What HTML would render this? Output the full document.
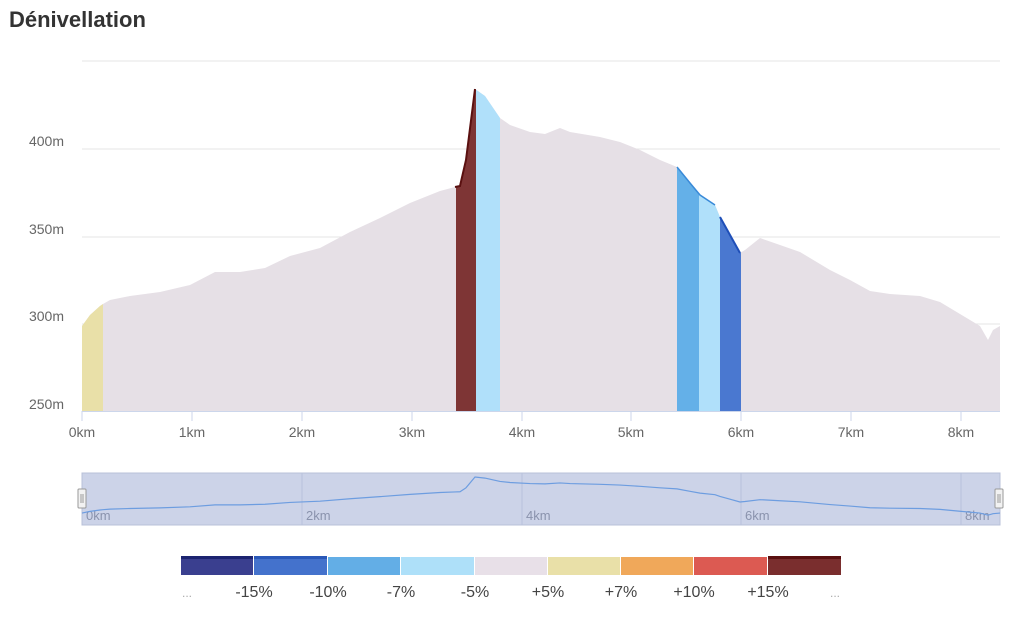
<!DOCTYPE html>
<html><head><meta charset="utf-8"><style>
body{margin:0;background:#fff;width:1024px;height:624px;overflow:hidden;font-family:"Liberation Sans",sans-serif}
</style></head><body>
<svg width="1024" height="624" viewBox="0 0 1024 624" xmlns="http://www.w3.org/2000/svg">
<text x="9" y="27" font-size="22" font-weight="bold" fill="#333" font-family="Liberation Sans, sans-serif">Dénivellation</text>
<g stroke="#e6e6e6" stroke-width="1">
<line x1="82" y1="61" x2="1000" y2="61"/><line x1="82" y1="149" x2="1000" y2="149"/>
<line x1="82" y1="237" x2="1000" y2="237"/><line x1="82" y1="324" x2="1000" y2="324"/>
</g>
<g font-size="14" fill="#666" text-anchor="end">
<text x="64" y="146">400m</text><text x="64" y="234">350m</text><text x="64" y="321">300m</text><text x="64" y="409">250m</text>
</g>
<defs>
<clipPath id="c"><path id="ap" d="M82,411 L82,326 L90,315 L100,306 L103,304 L110,300 L130,296 L160,292 L190,285 L215,272 L240,272 L265,268 L290,256 L320,248 L350,232 L380,218 L410,203 L440,191 L455,187 L460,186 L466,160 L475,89 L485,96 L500,118 L510,125 L530,132 L545,134 L560,128 L570,132 L600,137 L620,142 L640,150 L660,160 L677,167 L690,183 L700,195 L715,205 L720,217 L730,235 L740,253 L745,250 L760,238 L780,245 L800,252 L830,270 L850,280 L870,291 L890,294 L920,296 L940,302 L960,314 L980,326 L988,340 L993,330 L1000,326 L1000,411 Z"/></clipPath>
</defs>
<use href="#ap" fill="#e6e0e6"/>
<g clip-path="url(#c)">
<rect x="82" y="60" width="21" height="352" fill="#e9e0a8"/>
<rect x="456" y="60" width="20" height="352" fill="#7e3535"/>
<rect x="476" y="60" width="24" height="352" fill="#b0e0fa"/>
<rect x="677" y="60" width="22" height="352" fill="#64b0e8"/>
<rect x="699" y="60" width="21" height="352" fill="#b0e0fa"/>
<rect x="720" y="60" width="21" height="352" fill="#4a78d0"/>
</g>
<path d="M455,187 L460,186 L466,160 L475,89" fill="none" stroke="#5a1010" stroke-width="2"/>
<path d="M677,167 L690,183 L700,195 L715,205" fill="none" stroke="#3a8ad8" stroke-width="1.5"/>
<path d="M720,217 L730,235 L740,253" fill="none" stroke="#1f4fb8" stroke-width="2"/>
<line x1="82" y1="411.5" x2="1000" y2="411.5" stroke="#ccd6eb"/>
<g stroke="#ccd6eb"><line x1="82" y1="411" x2="82" y2="421"/><line x1="192" y1="411" x2="192" y2="421"/><line x1="302" y1="411" x2="302" y2="421"/><line x1="412" y1="411" x2="412" y2="421"/><line x1="522" y1="411" x2="522" y2="421"/><line x1="631" y1="411" x2="631" y2="421"/><line x1="741" y1="411" x2="741" y2="421"/><line x1="851" y1="411" x2="851" y2="421"/><line x1="961" y1="411" x2="961" y2="421"/></g>
<g font-size="14" fill="#666" text-anchor="middle">
<text x="82" y="437">0km</text><text x="192" y="437">1km</text><text x="302" y="437">2km</text><text x="412" y="437">3km</text><text x="522" y="437">4km</text><text x="631" y="437">5km</text><text x="741" y="437">6km</text><text x="851" y="437">7km</text><text x="961" y="437">8km</text>
</g>
<rect x="82" y="473" width="918" height="52" fill="#ccd3e8" stroke="#b8c0d8"/>
<g stroke="#b8c2dc"><line x1="302" y1="473" x2="302" y2="525"/><line x1="522" y1="473" x2="522" y2="525"/><line x1="741" y1="473" x2="741" y2="525"/><line x1="961" y1="473" x2="961" y2="525"/></g>
<g font-size="13" fill="#8a93ad">
<text x="86" y="520">0km</text><text x="306" y="520">2km</text><text x="526" y="520">4km</text><text x="745" y="520">6km</text><text x="965" y="520">8km</text>
</g>
<g transform="translate(0,463.5) scale(1,0.152)">
<path d="M82,326 L90,315 L100,306 L103,304 L110,300 L130,296 L160,292 L190,285 L215,272 L240,272 L265,268 L290,256 L320,248 L350,232 L380,218 L410,203 L440,191 L455,187 L460,186 L466,160 L475,89 L485,96 L500,118 L510,125 L530,132 L545,134 L560,128 L570,132 L600,137 L620,142 L640,150 L660,160 L677,167 L690,183 L700,195 L715,205 L720,217 L730,235 L740,253 L745,250 L760,238 L780,245 L800,252 L830,270 L850,280 L870,291 L890,294 L920,296 L940,302 L960,314 L980,326 L988,340 L993,330 L1000,326" fill="none" stroke="#6d9de0" stroke-width="1.2" vector-effect="non-scaling-stroke"/>
</g>
<g fill="#f2f2f2" stroke="#999"><rect x="78" y="489" width="8" height="19" rx="1"/><rect x="995" y="489" width="8" height="19" rx="1"/></g>
<g stroke="#999"><line x1="81" y1="494" x2="81" y2="503"/><line x1="83" y1="494" x2="83" y2="503"/><line x1="998" y1="494" x2="998" y2="503"/><line x1="1000" y1="494" x2="1000" y2="503"/></g>
<g>
<rect x="181" y="557" width="72" height="18" fill="#3a3f8f"/><rect x="181" y="556" width="72" height="3" fill="#1c2470"/>
<rect x="254" y="557" width="73" height="18" fill="#4472cc"/><rect x="254" y="556" width="73" height="3" fill="#2a58b8"/>
<rect x="328" y="557" width="72" height="18" fill="#63aee6"/>
<rect x="401" y="557" width="73" height="18" fill="#aee0f9"/>
<rect x="475" y="557" width="72" height="18" fill="#e8e0e8"/>
<rect x="548" y="557" width="72" height="18" fill="#e9e0a8"/>
<rect x="621" y="557" width="72" height="18" fill="#f0a85a"/>
<rect x="694" y="557" width="73" height="18" fill="#dc5a52"/>
<rect x="768" y="557" width="73" height="18" fill="#7a2e2e"/><rect x="768" y="556" width="73" height="3" fill="#5a1010"/>
</g>
<g font-size="16" fill="#444" text-anchor="middle">
<text x="187" y="597" font-size="12" fill="#aaa">...</text>
<text x="254" y="597">-15%</text><text x="328" y="597">-10%</text><text x="401" y="597">-7%</text><text x="475" y="597">-5%</text>
<text x="548" y="597">+5%</text><text x="621" y="597">+7%</text><text x="694" y="597">+10%</text><text x="768" y="597">+15%</text>
<text x="835" y="597" font-size="12" fill="#aaa">...</text>
</g>
</svg>
</body></html>
